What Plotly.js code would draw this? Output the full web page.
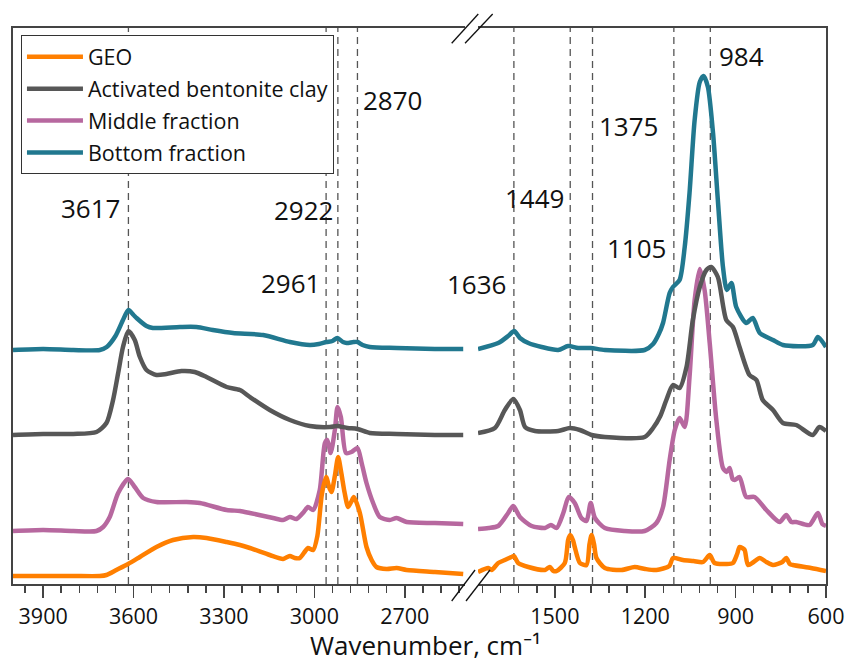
<!DOCTYPE html>
<html><head><meta charset="utf-8">
<script src="https://cdn.plot.ly/plotly-3.0.1.min.js"></script>
<style>html,body{margin:0;padding:0;background:#fff}#chart{width:847px;height:662px}</style>
</head><body><div id="chart"></div>
<script>
// ---- GEO ----
const geoWnL  = [4000,3900,3800,3712,3690,3657,3618,3579,3524,3469,3402,3358,3291,3247,3214,3148,3104,3090,3081,3065,3048,3030,3021,3004,2990,2975,2961,2950,2943,2932,2921,2910,2900,2888,2878,2869,2849,2827,2810,2794,2760,2727,2694,2600,2506];
const geoAbsL = [0.08,0.08,0.08,0.08,0.09,0.14,0.20,0.27,0.37,0.44,0.47,0.46,0.42,0.39,0.36,0.29,0.25,0.27,0.28,0.26,0.26,0.33,0.36,0.34,0.48,0.90,1.07,0.96,0.92,1.08,1.27,1.10,0.92,0.77,0.82,0.87,0.71,0.37,0.24,0.17,0.15,0.16,0.14,0.12,0.10];
const geoWnR  = [1755,1721,1710,1688,1666,1644,1636,1622,1588,1533,1517,1505,1494,1467,1456,1449,1440,1434,1417,1395,1385,1378,1370,1362,1334,1279,1235,1200,1163,1120,1108,1075,1040,1008,986,970,930,909,895,887,878,870,859,840,820,798,776,745,732,720,710,650,600];
const geoAbsR = [0.12,0.16,0.14,0.21,0.24,0.27,0.28,0.21,0.17,0.14,0.17,0.13,0.13,0.21,0.44,0.49,0.44,0.37,0.21,0.19,0.40,0.49,0.40,0.26,0.16,0.14,0.17,0.15,0.14,0.18,0.26,0.24,0.23,0.22,0.29,0.21,0.20,0.21,0.30,0.37,0.36,0.34,0.19,0.22,0.26,0.22,0.19,0.22,0.26,0.20,0.19,0.16,0.13];
// ---- Activated bentonite clay ----
const clayWnL  = [4000,3900,3800,3723,3690,3668,3651,3635,3617,3596,3579,3557,3524,3491,3441,3397,3358,3291,3247,3214,3148,3081,3015,2948,2925,2890,2857,2816,2727,2600,2506];
const clayAbsL = [1.49,1.50,1.50,1.52,1.61,1.84,2.11,2.37,2.53,2.44,2.27,2.14,2.09,2.10,2.13,2.12,2.07,1.97,1.94,1.87,1.74,1.64,1.58,1.57,1.58,1.56,1.55,1.51,1.50,1.49,1.49];
const clayWnR  = [1755,1699,1666,1638,1616,1599,1566,1489,1450,1417,1378,1334,1202,1174,1150,1130,1108,1086,1063,1042,1019,997,981,959,931,909,887,854,831,810,776,743,699,644,622,600];
const clayAbsR = [1.51,1.56,1.74,1.85,1.74,1.57,1.53,1.53,1.56,1.54,1.49,1.47,1.47,1.56,1.68,1.84,1.99,1.96,2.17,2.64,2.97,3.14,3.17,3.07,2.64,2.57,2.37,2.09,2.04,1.84,1.74,1.61,1.59,1.49,1.57,1.53];
// ---- Middle fraction ----
const middleWnL  = [4000,3900,3800,3723,3701,3679,3651,3618,3596,3568,3524,3424,3380,3291,3247,3214,3137,3104,3081,3059,3035,3021,3004,2982,2965,2957,2946,2932,2923,2912,2895,2877,2857,2843,2827,2805,2783,2750,2727,2694,2600,2506];
const middleAbsL = [0.53,0.54,0.53,0.53,0.57,0.67,0.91,1.05,0.97,0.86,0.82,0.82,0.81,0.74,0.73,0.71,0.66,0.64,0.67,0.65,0.72,0.77,0.74,0.94,1.41,1.44,1.31,1.54,1.77,1.67,1.31,1.32,1.36,1.21,1.01,0.81,0.67,0.64,0.66,0.62,0.61,0.60];
const middleWnR  = [1755,1720,1688,1655,1638,1616,1577,1533,1513,1494,1472,1454,1434,1412,1395,1381,1367,1334,1268,1202,1163,1141,1119,1102,1086,1069,1053,1036,1019,1003,986,964,942,930,920,910,903,887,865,837,798,754,732,715,699,655,627,612,600];
const middleAbsR = [0.55,0.56,0.58,0.71,0.78,0.67,0.58,0.56,0.59,0.56,0.71,0.87,0.81,0.66,0.63,0.81,0.66,0.56,0.53,0.53,0.61,0.77,1.24,1.54,1.66,1.57,2.07,2.84,3.15,2.94,2.41,1.64,1.16,1.12,1.16,1.05,1.04,1.07,0.87,0.87,0.74,0.62,0.69,0.62,0.62,0.59,0.71,0.60,0.58];
// ---- Bottom fraction ----
const bottomWnL  = [4000,3900,3800,3712,3689,3660,3635,3617,3600,3590,3557,3536,3446,3391,3337,3270,3170,3081,3015,2985,2960,2940,2924,2905,2893,2870,2857,2840,2816,2727,2600,2506];
const bottomAbsL = [2.34,2.35,2.34,2.34,2.37,2.48,2.64,2.74,2.69,2.66,2.58,2.56,2.57,2.57,2.54,2.51,2.49,2.42,2.39,2.40,2.42,2.43,2.46,2.42,2.41,2.42,2.42,2.39,2.37,2.36,2.35,2.35];
const bottomWnR  = [1755,1688,1655,1635,1616,1588,1544,1489,1456,1423,1381,1334,1202,1174,1155,1141,1119,1108,1086,1069,1053,1036,1019,1006,992,975,959,942,929,914,898,865,843,820,776,743,644,627,600];
const bottomAbsR = [2.35,2.41,2.48,2.53,2.46,2.41,2.37,2.34,2.38,2.36,2.36,2.34,2.34,2.40,2.50,2.61,2.91,2.97,3.04,3.37,3.91,4.64,5.02,5.08,4.97,4.51,3.84,3.17,2.94,3.01,2.77,2.61,2.66,2.51,2.44,2.39,2.39,2.47,2.37];

const seriesNames  = ["GEO","Activated bentonite clay","Middle fraction","Bottom fraction"];
const seriesColors = ["#ff7f00","#575757","#b7689f","#21788f"];
const bandPositions = [3617,2961,2922,2857,1636,1449,1375,1105,984];
const bandLabels    = ["3617","2961","2922","2870","1636","1449","1375","1105","984"];
const majorTickStep = 300;
const minorTickStep = 60;

const seriesData = [
  [geoWnL, geoAbsL, geoWnR, geoAbsR],
  [clayWnL, clayAbsL, clayWnR, clayAbsR],
  [middleWnL, middleAbsL, middleWnR, middleAbsR],
  [bottomWnL, bottomAbsL, bottomWnR, bottomAbsR]
];

const FONT = "Open Sans, Noto Sans, DejaVu Sans, sans-serif";
const traces = [];
const drawOrder = [3,2,1,0];
drawOrder.forEach(i => {
  const d = seriesData[i];
  const line = {color: seriesColors[i], width: 4.5, shape: 'spline', smoothing: 0.7};
  traces.push({x: d[0], y: d[1], xaxis:'x', yaxis:'y', mode:'lines', line: line,
    name: seriesNames[i], legendgroup: 'g'+i, legendrank: i+1, showlegend: true});
  traces.push({x: d[2], y: d[3], xaxis:'x2', yaxis:'y2', mode:'lines', line: line,
    name: seriesNames[i], legendgroup: 'g'+i, legendrank: i+1, showlegend: false});
});

const axisColor = '#444';
const xCommon = {
  showline: true, linecolor: axisColor, linewidth: 2, mirror: true,
  showgrid: false, zeroline: false,
  ticks: 'outside', ticklen: 12, tickwidth: 1.5, tickcolor: axisColor,
  tick0: 0, dtick: majorTickStep,
  minor: {dtick: minorTickStep, ticks: 'outside', ticklen: 7, tickwidth: 1.5, tickcolor: axisColor, showgrid: false},
  tickfont: {family: FONT, size: 21.5, color: '#111'}
};
const yCommon = {range: [0, 5.56], showticklabels: false, ticks: '', showgrid: false, zeroline: false,
  showline: true, linecolor: axisColor, linewidth: 2, fixedrange: true};

const shapes = bandPositions.map(b => ({
  type: 'line', xref: b > 2000 ? 'x' : 'x2', yref: 'paper', x0: b, x1: b, y0: 0, y1: 1,
  line: {color: '#555', width: 1.3, dash: '7px,5px'}, layer: 'below'
}));
// axis break marks
[[0.5396,-0.0306,0.5683,0.0252],[0.5572,-0.0306,0.5867,0.0252],
 [0.5396,0.9725,0.5723,1.0252],[0.5560,0.9725,0.5900,1.0252]].forEach(s => {
  shapes.push({type:'line', xref:'paper', yref:'paper', x0:s[0], y0:s[1], x1:s[2], y1:s[3],
    line:{color:'#111', width:1.3}});
});

const labelPlacement = {
  "3617": {y: 3.76, a: 'right', s: -6},
  "2961": {y: 3.01, a: 'right', s: -4},
  "2922": {y: 3.74, a: 'right', s: -3},
  "2870": {y: 4.84, a: 'left',  s: 4},
  "1636": {y: 3.00, a: 'right', s: -6},
  "1449": {y: 3.86, a: 'right', s: -4},
  "1375": {y: 4.58, a: 'left',  s: 4},
  "1105": {y: 3.36, a: 'right', s: -6},
  "984":  {y: 5.28, a: 'left',  s: 7}
};
const annotations = bandPositions.map((b, k) => {
  const p = labelPlacement[bandLabels[k]];
  return {text: bandLabels[k], x: b, y: p.y, xref: b > 2000 ? 'x' : 'x2', yref: b > 2000 ? 'y' : 'y2',
    xanchor: p.a, yanchor: 'middle', xshift: p.s, showarrow: false,
    font: {family: FONT, size: 26, color: '#111'}};
});
annotations.push({text: 'Wavenumber, cm⁻¹', xref: 'paper', yref: 'paper', x: 0.507, y: -0.1097,
  xanchor: 'center', yanchor: 'middle', showarrow: false, font: {family: FONT, size: 26, color: '#111'}});

const layout = {
  width: 847, height: 662,
  margin: {l: 13, r: 21, t: 28, b: 78},
  paper_bgcolor: '#fff', plot_bgcolor: '#fff',
  showlegend: true,
  legend: {x: 0.0098, y: 0.987, xanchor: 'left', yanchor: 'top', bgcolor: '#fff',
    bordercolor: '#333', borderwidth: 1, traceorder: 'grouped', tracegroupgap: 1, itemwidth: 56,
    font: {family: FONT, size: 21.5, color: '#111'}},
  xaxis: Object.assign({}, xCommon, {domain: [0, 0.556], range: [4000, 2500], anchor: 'y'}),
  xaxis2: Object.assign({}, xCommon, {domain: [0.572, 1], range: [1755, 600], anchor: 'y2'}),
  yaxis: Object.assign({}, yCommon, {anchor: 'x'}),
  yaxis2: Object.assign({}, yCommon, {anchor: 'x2', side: 'right', matches: 'y'}),
  shapes: shapes, annotations: annotations
};

Plotly.newPlot('chart', traces, layout, {staticPlot: true, displayModeBar: false});
</script></body></html>
